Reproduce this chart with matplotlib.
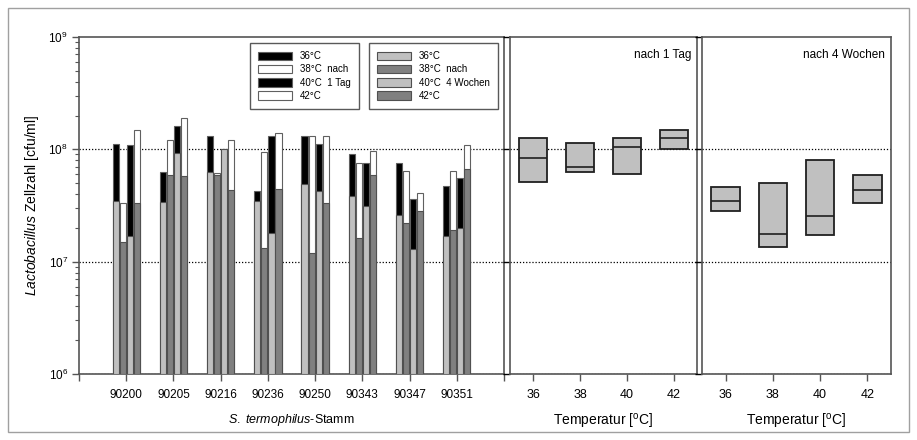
import numpy as np
import matplotlib
matplotlib.use("Agg")
import matplotlib.pyplot as plt
from matplotlib.patches import Patch, Rectangle
from matplotlib.ticker import LogLocator, NullFormatter, FixedLocator

plt.rcParams['font.family'] = ['Liberation Sans', 'DejaVu Sans']
plt.rcParams['mathtext.fontset'] = 'custom'
plt.rcParams['mathtext.rm'] = 'Liberation Sans'
plt.rcParams['mathtext.it'] = 'Liberation Sans:italic'

# ---------------- data ----------------
strains = ["90200", "90205", "90216", "90236", "90250", "90343", "90347", "90351"]
temps = [36, 38, 40, 42]

# cfu/ml after 1 day, per strain, columns = 36, 38, 40, 42 degC
day1_36 = [1.11e8, 6.3e7, 1.31e8, 4.3e7, 1.31e8, 9.0e7, 7.6e7, 4.7e7]
day1_38 = [3.3e7, 1.21e8, 6.2e7, 9.5e7, 1.31e8, 7.6e7, 6.4e7, 6.4e7]
day1_40 = [1.1e8, 1.61e8, 1.0e8, 1.31e8, 1.11e8, 7.5e7, 3.6e7, 5.5e7]
day1_42 = [1.5e8, 1.89e8, 1.21e8, 1.41e8, 1.31e8, 9.7e7, 4.1e7, 1.1e8]

# cfu/ml after 4 weeks
wk4_36 = [3.5e7, 3.4e7, 6.3e7, 3.5e7, 4.9e7, 3.82e7, 2.6e7, 1.7e7]
wk4_38 = [1.5e7, 5.96e7, 5.9e7, 1.31e7, 1.2e7, 1.62e7, 2.2e7, 1.92e7]
wk4_40 = [1.7e7, 9.2e7, 1.0e8, 1.8e7, 4.3e7, 3.1e7, 1.29e7, 2.0e7]
wk4_42 = [3.3e7, 5.8e7, 4.33e7, 4.4e7, 3.3e7, 5.96e7, 2.8e7, 6.7e7]

day1 = [day1_36, day1_38, day1_40, day1_42]
wk4 = [wk4_36, wk4_38, wk4_40, wk4_42]

day1_colors = ["black", "white", "black", "white"]
wk4_colors = ["#c0c0c0", "#808080", "#c0c0c0", "#808080"]
legend1_labels = ["36°C", "38°C  nach", "40°C  1 Tag", "42°C"]
legend2_labels = ["36°C", "38°C  nach", "40°C  4 Wochen", "42°C"]

# ---------------- figure ----------------
W, H = 917, 440
fig = plt.figure(figsize=(W / 100, H / 100), dpi=100)

def px_axes(x0, x1, y0, y1):
    return fig.add_axes([x0 / W, 1 - y1 / H, (x1 - x0) / W, (y1 - y0) / H])

# outer border
fig.patches.append(Rectangle((8 / W, 8 / H), (909 - 8) / W, (432 - 8) / H,
                             transform=fig.transFigure, fill=False,
                             edgecolor="#a0a0a0", linewidth=1.0))

ax1 = px_axes(79, 504, 37, 374)
ax2 = px_axes(510, 697, 37, 374)
ax3 = px_axes(702, 891, 37, 374)

spine_col = "#555555"
for ax in (ax1, ax2, ax3):
    ax.set_yscale("log")
    ax.set_ylim(1e6, 1e9)
    for s in ax.spines.values():
        s.set_color(spine_col)
        s.set_linewidth(1.2)
    ax.set_axisbelow(True)
    for v in (1e6, 1e7, 1e8):
        ax.axhline(v, color="black", linestyle=(0, (1, 1.5)), linewidth=0.9, zorder=0.5)

# ---- left panel: bars ----
offsets = [-0.225, -0.075, 0.075, 0.225]
bw = 0.13
x = np.arange(1, len(strains) + 1)
base = 1e6
for j in range(4):
    xs = x + offsets[j]
    ax1.bar(xs, np.array(day1[j]) - base, bottom=base, width=bw,
            color=day1_colors[j], edgecolor="#606060", linewidth=0.8, zorder=2)
    ax1.bar(xs, np.array(wk4[j]) - base, bottom=base, width=bw,
            color=wk4_colors[j], edgecolor="#505050", linewidth=0.8, zorder=3)

ax1.set_xlim(0, 9)
ax1.xaxis.set_major_locator(FixedLocator(range(0, 10)))
ax1.set_xticklabels([""] + strains + [""])
ax1.tick_params(axis="x", direction="out", length=5, width=1, color=spine_col,
                labelsize=8.5, pad=6)
ax1.yaxis.set_major_locator(LogLocator(base=10, numticks=10))
ax1.yaxis.set_minor_locator(LogLocator(base=10, subs=np.arange(2, 10), numticks=10))
ax1.yaxis.set_minor_formatter(NullFormatter())
ax1.tick_params(axis="y", which="major", direction="out", length=5, width=1,
                color=spine_col, labelsize=8.5, pad=3)
ax1.tick_params(axis="y", which="minor", direction="out", length=3, width=0.8,
                color=spine_col)
ax1.set_ylabel(r"$\it{Lactobacillus}$ Zellzahl [cfu/ml]", fontsize=10, labelpad=5)
ax1.set_xlabel(r"$\it{S.\ termophilus}$-Stamm", fontsize=9, labelpad=8)

h1 = [Patch(facecolor=c, edgecolor="#606060", linewidth=0.8) for c in day1_colors]
h2 = [Patch(facecolor=c, edgecolor="#505050", linewidth=0.8) for c in wk4_colors]
common = dict(loc="upper left", fontsize=7, frameon=True, fancybox=False,
              handlelength=3.5, handleheight=1.0, handletextpad=0.8,
              labelspacing=0.32, borderpad=0.85, borderaxespad=0)
leg1 = ax1.legend(h1, legend1_labels, bbox_to_anchor=(0.402, 0.982), **common)
leg1.get_frame().set_edgecolor("#303030")
leg1.get_frame().set_linewidth(1.0)
ax1.add_artist(leg1)
leg2 = ax1.legend(h2, legend2_labels, bbox_to_anchor=(0.682, 0.982), **common)
leg2.get_frame().set_edgecolor("#303030")
leg2.get_frame().set_linewidth(1.0)

# ---- box panels ----
def box_stats(vals):
    v = np.asarray(vals)
    q1, med, q3 = np.percentile(v, [25, 50, 75], method="weibull")
    return dict(med=med, q1=q1, q3=q3, whislo=q1, whishi=q3, fliers=[])

for ax, data, title in ((ax2, day1, "nach 1 Tag"), (ax3, wk4, "nach 4 Wochen")):
    stats = [box_stats(d) for d in data]
    ax.bxp(stats, positions=temps, widths=1.2, patch_artist=True,
           showcaps=False, showfliers=False,
           boxprops=dict(facecolor="#c0c0c0", edgecolor="#202020", linewidth=1.3),
           medianprops=dict(color="#202020", linewidth=1.2),
           whiskerprops=dict(linewidth=0), manage_ticks=False, zorder=3)
    ax.set_xlim(35, 43)
    ax.set_xticks(temps)
    ax.set_xticklabels([str(t) for t in temps])
    ax.tick_params(axis="x", direction="out", length=5, width=1, color=spine_col,
                   labelsize=9, pad=6)
    ax.yaxis.set_major_locator(LogLocator(base=10, numticks=10))
    ax.yaxis.set_minor_locator(FixedLocator([]))
    ax.tick_params(axis="y", which="major", direction="out", length=5, width=1,
                   color="black", labelleft=False)
    ax.set_xlabel(r"Temperatur [$^{\mathrm{o}}$C]", fontsize=10, labelpad=8)
    ax.text(0.97, 0.965, title, transform=ax.transAxes, ha="right", va="top",
            fontsize=8.5)

fig.savefig("out.png", dpi=100)
